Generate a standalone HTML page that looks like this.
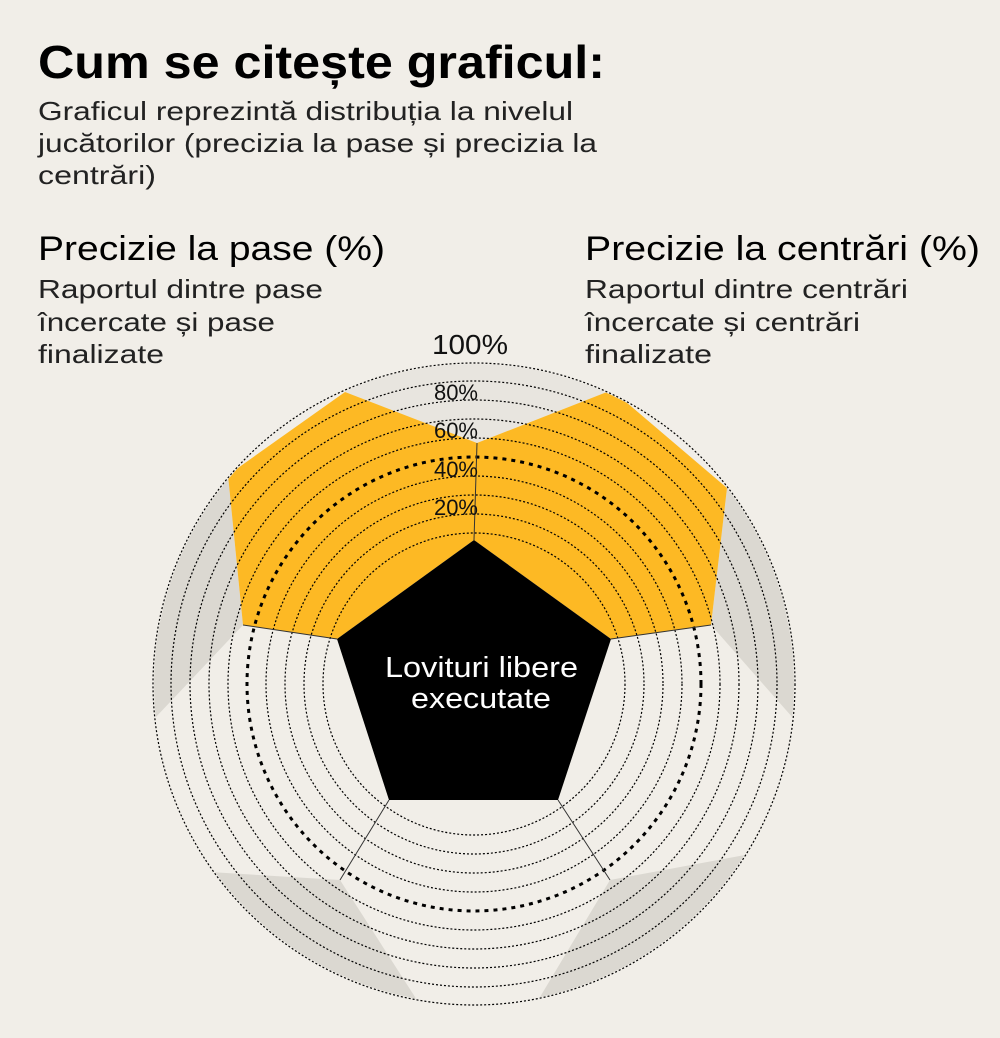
<!DOCTYPE html>
<html><head><meta charset="utf-8"><style>
html,body{margin:0;padding:0;background:#f1eee8;}
svg{display:block;font-family:"Liberation Sans",sans-serif;}
</style></head><body>
<svg width="1000" height="1038" viewBox="0 0 1000 1038" xmlns="http://www.w3.org/2000/svg">
<rect width="1000" height="1038" fill="#f1eee8"/>
<defs><clipPath id="c"><circle cx="474" cy="684" r="320"/></clipPath></defs>
<g clip-path="url(#c)">
  <polygon points="345,392 477,443 612,390 640,330 320,330" fill="#e8e5df"/>
  <polygon points="228,475 243,625 155,718 90,800 90,430" fill="#dbd8d1"/>
  <polygon points="727,488 711,625 793,718 860,800 860,430" fill="#dbd8d1"/>
  <polygon points="210,872 340,880 415,997 430,1030 130,1030 120,860" fill="#dbd8d1"/>
  <polygon points="745,855 610,880 540,997 520,1030 830,1030 840,840" fill="#dbd8d1"/>
  <polygon points="474,540 477,443 345,392 228,475 243,625 337,639" fill="#fdb924"/>
  <polygon points="474,540 477,443 612,390 727,488 711,625 611,639" fill="#fdb924"/>
</g>
<g fill="none" stroke="#000" stroke-width="1.2" stroke-dasharray="2 2">
  <circle cx="474" cy="684" r="151"/>
  <circle cx="474" cy="684" r="170"/>
  <circle cx="474" cy="684" r="189"/>
  <circle cx="474" cy="684" r="208"/>
  <circle cx="474" cy="684" r="246"/>
  <circle cx="474" cy="684" r="265"/>
  <circle cx="474" cy="684" r="284"/>
  <circle cx="474" cy="684" r="303"/>
  <circle cx="474" cy="684" r="321"/>
</g>
<circle cx="474" cy="684" r="227" fill="none" stroke="#000" stroke-width="3" stroke-dasharray="4 5"/>
<g stroke="#333" stroke-width="1">
  <line x1="474" y1="540" x2="477" y2="443"/>
  <line x1="337" y1="639" x2="243" y2="625"/>
  <line x1="611" y1="639" x2="711" y2="625"/>
  <line x1="389" y1="800" x2="340" y2="880"/>
  <line x1="558" y1="800" x2="610" y2="880"/>
</g>
<polygon points="474,540 611,639 558,800 389,800 337,639" fill="#000"/>
<g fill="#fff" font-size="29">
  <text x="385" y="677" textLength="193" lengthAdjust="spacingAndGlyphs">Lovituri libere</text>
  <text x="411" y="708" textLength="140" lengthAdjust="spacingAndGlyphs">executate</text>
</g>
<g fill="#111" font-size="22" text-anchor="end">
  <text x="478" y="400">80%</text>
  <text x="478" y="438">60%</text>
  <text x="478" y="477">40%</text>
  <text x="478" y="515">20%</text>
</g>
<text x="432" y="354" font-size="28" fill="#111" textLength="76" lengthAdjust="spacingAndGlyphs">100%</text>
<g fill="#000">
  <text x="38" y="78" font-size="46" font-weight="bold" textLength="567" lengthAdjust="spacingAndGlyphs">Cum se citește graficul:</text>
  <g font-size="26" fill="#222">
    <text x="38" y="120" textLength="535" lengthAdjust="spacingAndGlyphs">Graficul reprezintă distribuția la nivelul</text>
    <text x="38" y="152" textLength="559" lengthAdjust="spacingAndGlyphs">jucătorilor (precizia la pase și precizia la</text>
    <text x="38" y="184" textLength="118" lengthAdjust="spacingAndGlyphs">centrări)</text>
  </g>
  <text x="38" y="260" font-size="34" textLength="347" lengthAdjust="spacingAndGlyphs">Precizie la pase (%)</text>
  <text x="585" y="260" font-size="34" textLength="395" lengthAdjust="spacingAndGlyphs">Precizie la centrări (%)</text>
  <g font-size="26" fill="#222">
    <text x="38" y="298" textLength="285" lengthAdjust="spacingAndGlyphs">Raportul dintre pase</text>
    <text x="38" y="331" textLength="237" lengthAdjust="spacingAndGlyphs">încercate și pase</text>
    <text x="38" y="363" textLength="126" lengthAdjust="spacingAndGlyphs">finalizate</text>
    <text x="585" y="298" textLength="323" lengthAdjust="spacingAndGlyphs">Raportul dintre centrări</text>
    <text x="585" y="331" textLength="275" lengthAdjust="spacingAndGlyphs">încercate și centrări</text>
    <text x="585" y="363" textLength="127" lengthAdjust="spacingAndGlyphs">finalizate</text>
  </g>
</g>
</svg>
</body></html>
